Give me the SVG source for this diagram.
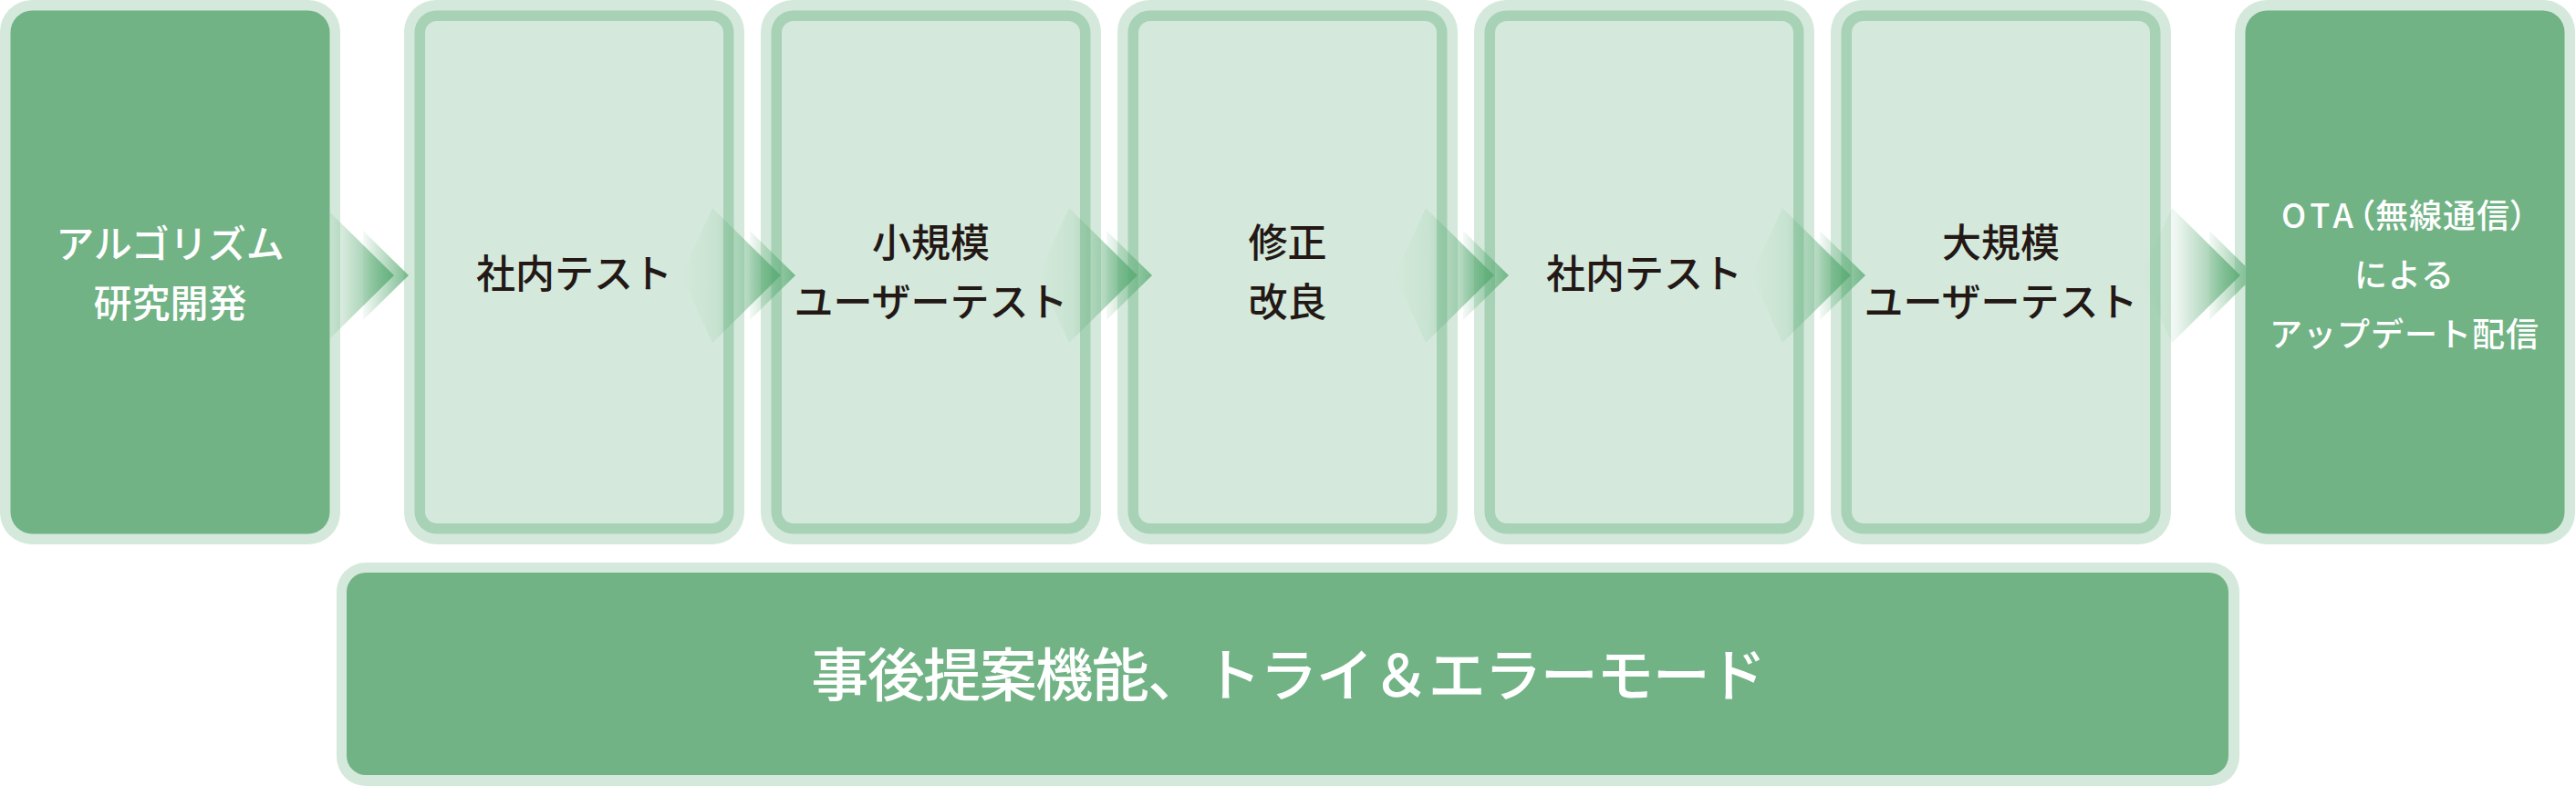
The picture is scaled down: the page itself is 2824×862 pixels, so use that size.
<svg xmlns="http://www.w3.org/2000/svg" width="2824" height="862" viewBox="0 0 2824 862">
<style>
.outer{fill:#D4E9DB}
.ring{fill:#A8D2B6}
.inner{fill:#D4E9DB}
.dark{fill:#71B385}
.w{fill:#FFFFFF;font-family:"Noto Sans CJK JP","Noto Sans CJK SC",sans-serif;font-size:42px;font-weight:500;text-anchor:middle}
.f{fill:#FFFFFF;font-family:"Noto Sans CJK JP","Noto Sans CJK SC",sans-serif;font-size:36px;font-weight:500;letter-spacing:1px;text-anchor:middle}
.d{fill:#231815;font-family:"Noto Sans CJK JP","Noto Sans CJK SC",sans-serif;font-size:43px;font-weight:500;text-anchor:middle}
.b{fill:#FFFFFF;font-family:"Noto Sans CJK JP","Noto Sans CJK SC",sans-serif;font-size:63px;font-weight:500;letter-spacing:-1.5px;text-anchor:middle}
.palt{font-feature-settings:"palt"}
.big{fill:url(#gBig)}
.small{fill:url(#gSmall)}
</style>
<defs>
<linearGradient id="gBig" gradientUnits="userSpaceOnUse" x1="-109" y1="0" x2="0" y2="0">
<stop offset="0" stop-color="#5AAB74" stop-opacity="0"/>
<stop offset="0.35" stop-color="#5AAB74" stop-opacity="0.1"/>
<stop offset="1" stop-color="#5AAB74" stop-opacity="0.85"/>
</linearGradient>
<linearGradient id="gSmall" gradientUnits="userSpaceOnUse" x1="-34" y1="0" x2="16" y2="0">
<stop offset="0" stop-color="#5AAB74" stop-opacity="0.06"/>
<stop offset="1" stop-color="#5AAB74" stop-opacity="0.8"/>
</linearGradient>
</defs>

<g id="node-research">
<rect class="outer" x="0" y="0" width="373" height="597" rx="35"/>
<rect class="dark" x="11.5" y="11.5" width="350" height="574" rx="24"/>
<text class="w" x="186.5" y="282.5">アルゴリズム</text>
<text class="w" x="186.5" y="347.5">研究開発</text>
</g>

<g id="node-internal-test-1">
<rect class="outer" x="443" y="0" width="373" height="597" rx="35"/>
<rect class="ring" x="454.5" y="11.5" width="350" height="574" rx="24"/>
<rect class="inner" x="466" y="23" width="327" height="551" rx="13"/>
<text class="d" x="629.5" y="316">社内テスト</text>
</g>

<g id="node-small-user-test">
<rect class="outer" x="834" y="0" width="373" height="597" rx="35"/>
<rect class="ring" x="845.5" y="11.5" width="350" height="574" rx="24"/>
<rect class="inner" x="857" y="23" width="327" height="551" rx="13"/>
<text class="d" x="1020.5" y="282">小規模</text>
<text class="d" x="1020.5" y="347">ユーザーテスト</text>
</g>

<g id="node-fix">
<rect class="outer" x="1225" y="0" width="373" height="597" rx="35"/>
<rect class="ring" x="1236.5" y="11.5" width="350" height="574" rx="24"/>
<rect class="inner" x="1248" y="23" width="327" height="551" rx="13"/>
<text class="d" x="1411.5" y="282">修正</text>
<text class="d" x="1411.5" y="347">改良</text>
</g>

<g id="node-internal-test-2">
<rect class="outer" x="1616" y="0" width="373" height="597" rx="35"/>
<rect class="ring" x="1627.5" y="11.5" width="350" height="574" rx="24"/>
<rect class="inner" x="1639" y="23" width="327" height="551" rx="13"/>
<text class="d" x="1802.5" y="316">社内テスト</text>
</g>

<g id="node-large-user-test">
<rect class="outer" x="2007" y="0" width="373" height="597" rx="35"/>
<rect class="ring" x="2018.5" y="11.5" width="350" height="574" rx="24"/>
<rect class="inner" x="2030" y="23" width="327" height="551" rx="13"/>
<text class="d" x="2193.5" y="282">大規模</text>
<text class="d" x="2193.5" y="347">ユーザーテスト</text>
</g>

<g id="node-ota">
<rect class="outer" x="2450" y="0" width="373" height="597" rx="35"/>
<rect class="dark" x="2461.5" y="11.5" width="350" height="574" rx="24"/>
<text class="f" x="2636" y="250"><tspan letter-spacing="5">OTA</tspan><tspan class="palt">（</tspan>無線通信<tspan class="palt">）</tspan></text>
<text class="f" x="2636" y="315">による</text>
<text class="f" x="2636" y="380">アップデート配信</text>
</g>

<g id="node-feedback">
<rect class="outer" x="369" y="617" width="2086" height="245" rx="32"/>
<rect class="dark" x="380" y="628" width="2063" height="222" rx="21"/>
<text class="b" x="1412" y="763">事後提案機能、トライ＆エラーモード</text>
</g>

<g id="connectors">
<g transform="translate(432,302)">
<polygon class="big" points="-70,-69 0,0 -70,69"/>
<polygon class="small" points="-34,-49 16,0 -34,49"/>
</g>
<g transform="translate(856,302)">
<polygon class="big" points="-109,0 -75,-74 0,0 -75,74"/>
<polygon class="small" points="-34,-49 16,0 -34,49"/>
</g>
<g transform="translate(1247,302)">
<polygon class="big" points="-109,0 -75,-74 0,0 -75,74"/>
<polygon class="small" points="-34,-49 16,0 -34,49"/>
</g>
<g transform="translate(1638,302)">
<polygon class="big" points="-109,0 -75,-74 0,0 -75,74"/>
<polygon class="small" points="-34,-49 16,0 -34,49"/>
</g>
<g transform="translate(2029,302)">
<polygon class="big" points="-109,0 -75,-74 0,0 -75,74"/>
<polygon class="small" points="-34,-49 16,0 -34,49"/>
</g>
<g transform="translate(2456,302)">
<polygon class="big" points="-109,0 -75,-74 0,0 -75,74"/>
<polygon class="small" points="-34,-49 5.5,-10.3 5.5,10.3 -34,49"/>
</g>
</g>
</svg>
